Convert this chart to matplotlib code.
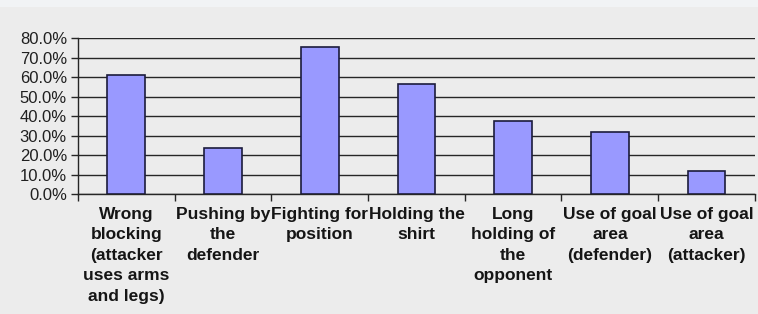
import matplotlib.pyplot as plt
from matplotlib.patches import Rectangle
from matplotlib.ticker import FuncFormatter, MultipleLocator

categories = [
    "Wrong\nblocking\n(attacker\nuses arms\nand legs)",
    "Pushing by\nthe\ndefender",
    "Fighting for\nposition",
    "Holding the\nshirt",
    "Long\nholding of\nthe\nopponent",
    "Use of goal\narea\n(defender)",
    "Use of goal\narea\n(attacker)",
]
values = [60.8, 23.7, 75.5, 56.6, 37.6, 31.9, 11.6]

fonts = ['Liberation Sans Narrow', 'Liberation Sans', 'DejaVu Sans']
bg = '#ececec'

fig = plt.figure(figsize=(7.58, 3.14), dpi=100, facecolor=bg)
# pale strip along the top edge of the screenshot
fig.patches.append(Rectangle((0, 0.977), 1, 0.023, transform=fig.transFigure,
                             facecolor='#f1f3f5', edgecolor='none', zorder=0))

ax = fig.add_axes([0.1029, 0.382, 0.893, 0.497])
ax.set_facecolor(bg)

x = list(range(len(categories)))
ax.bar(x, values, width=0.39, color='#9999ff', edgecolor='#1c1c3c',
       linewidth=1.2, zorder=3)

ax.set_xlim(-0.5, len(categories) - 0.5)
ax.set_ylim(0, 80)
ax.yaxis.set_major_locator(MultipleLocator(10))
ax.yaxis.set_major_formatter(FuncFormatter(lambda v, p: f"{v:.1f}%"))
ax.grid(axis='y', color='#262626', linewidth=1.0, zorder=1)
ax.set_axisbelow(True)

for s in ['top', 'right']:
    ax.spines[s].set_visible(False)
for s in ['left', 'bottom']:
    ax.spines[s].set_color('#262626')
    ax.spines[s].set_linewidth(1.0)

ax.tick_params(axis='y', length=5, width=1.0, color='#262626', pad=3)
for lbl in ax.get_yticklabels():
    lbl.set_fontfamily(fonts)
    lbl.set_fontsize(12)
    lbl.set_color('#202020')

ax.set_xticks(x)
ax.set_xticklabels(categories, fontfamily=fonts, fontsize=12.5,
                   fontweight='bold', color='#151515', linespacing=1.46,
                   ha='center', va='top')
ax.tick_params(axis='x', which='major', length=0, pad=9)
ax.set_xticks([i - 0.5 for i in range(len(categories) + 1)], minor=True)
ax.tick_params(axis='x', which='minor', length=5, width=1.0, color='#262626')

fig.savefig('out.png', dpi=100, facecolor=bg)
